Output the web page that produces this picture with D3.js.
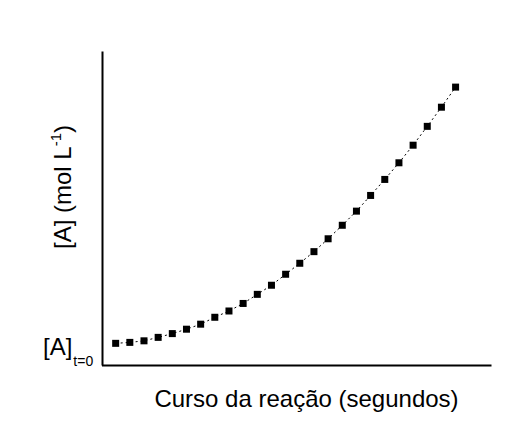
<!DOCTYPE html>
<html>
<head>
<meta charset="utf-8">
<script src="https://cdn.jsdelivr.net/npm/d3@7"></script>
<style>
  html, body { margin: 0; padding: 0; background: #fff; }
  svg { display: block; font-family: "Liberation Sans", Arial, sans-serif; }
</style>
</head>
<body>
<svg id="chart" width="510" height="438"></svg>
<script>
// Time (seconds) — reaction course
const times = [0,1,2,3,4,5,6,7,8,9,10,11,12,13,14,15,16,17,18,19,20,21,22,23,24];
// Concentration [A] (arbitrary units, mol L^-1)
const concentrations = [0.069,0.072,0.077,0.088,0.100,0.114,0.130,0.152,0.172,0.196,
  0.225,0.254,0.289,0.324,0.361,0.402,0.445,0.490,0.540,0.591,0.644,0.700,0.760,0.821,0.885];
const xLabel = "Curso da reação (segundos)";
const y0Label = "[A]";
const y0Sub = "t=0";

const data = times.map((t, i) => ({ t, c: concentrations[i] }));

const svg = d3.select("#chart");
const x = d3.scaleLinear().domain([-1, 26.5]).range([101.5, 491]);
const y = d3.scaleLinear().domain([0, 1]).range([365, 51]);

// Axes (no ticks)
const xAxis = d3.axisBottom(x).tickValues([]).tickSizeOuter(0);
const yAxis = d3.axisLeft(y).tickValues([]).tickSizeOuter(0);
svg.append("g").attr("transform", `translate(0,${y(0)})`).call(xAxis)
  .select(".domain").attr("stroke", "#000").attr("stroke-width", 2);
svg.append("g").attr("transform", `translate(${x(-1) + 0.5},0)`).call(yAxis)
  .select(".domain").attr("stroke", "#000").attr("stroke-width", 2);

// Dotted connecting line
const line = d3.line().x(d => x(d.t)).y(d => y(d.c));
svg.append("path").datum(data)
  .attr("d", line)
  .attr("fill", "none")
  .attr("stroke", "#000")
  .attr("stroke-width", 1)
  .attr("stroke-dasharray", "2,3");

// Square markers
const s = 7;
svg.append("g").selectAll("rect").data(data).join("rect")
  .attr("x", d => x(d.t) - s / 2)
  .attr("y", d => y(d.c) - s / 2)
  .attr("width", s).attr("height", s)
  .attr("fill", "#000");

// X label
svg.append("text")
  .attr("x", 306.5).attr("y", 407)
  .attr("text-anchor", "middle")
  .attr("font-size", 24)
  .attr("fill", "#000")
  .text(xLabel);

// Y label, rotated
const yl = svg.append("text")
  .attr("transform", "translate(71,187) rotate(-90)")
  .attr("text-anchor", "middle")
  .attr("font-size", 24)
  .attr("fill", "#000");
yl.append("tspan").text("[A] (mol L");
yl.append("tspan").attr("font-size", 15).attr("dy", -10).text("-1");
yl.append("tspan").attr("dy", 10).text(")");

// [A]t=0 label
const t0 = svg.append("text")
  .attr("x", 43).attr("y", 355)
  .attr("font-size", 24)
  .attr("fill", "#000");
t0.append("tspan").text(y0Label);
t0.append("tspan").attr("font-size", 14).attr("dy", 11).attr("dx", 1).text(y0Sub);
</script>
</body>
</html>
